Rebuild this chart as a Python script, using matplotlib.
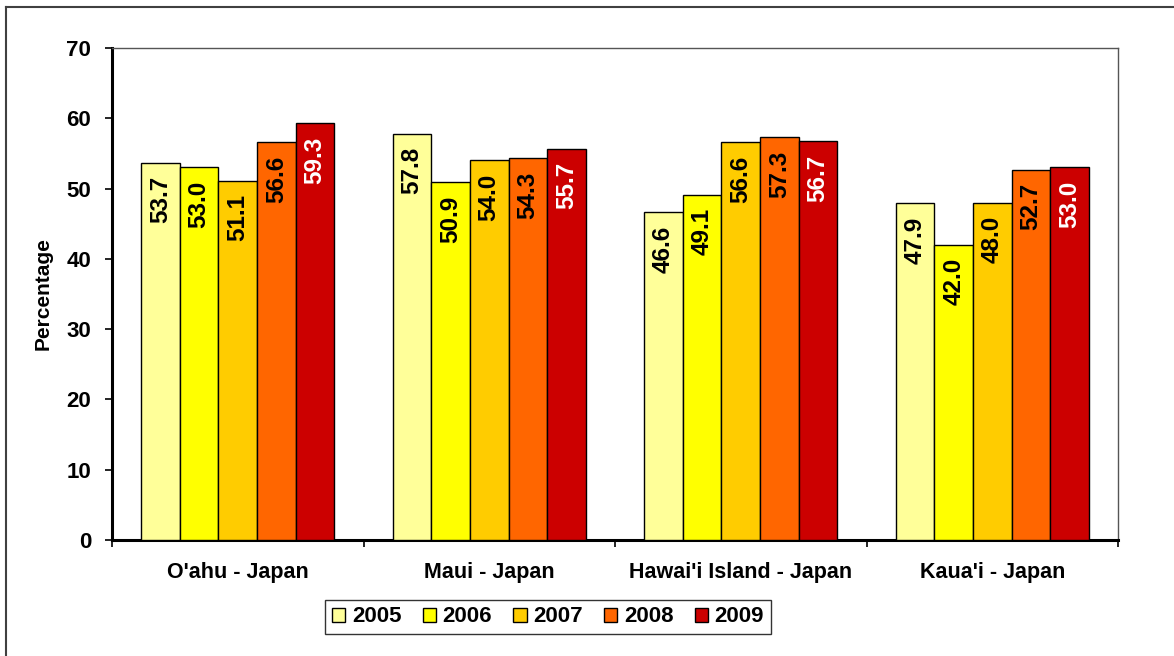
import matplotlib.pyplot as plt
import numpy as np
from matplotlib.lines import Line2D

plt.rcParams["font.family"] = ["Liberation Sans", "DejaVu Sans"]
plt.rcParams["font.weight"] = "bold"

islands = ["O'ahu - Japan", "Maui - Japan", "Hawai'i Island - Japan", "Kaua'i - Japan"]
years = ["2005", "2006", "2007", "2008", "2009"]
werte_2005 = [53.7, 57.8, 46.6, 47.9]
werte_2006 = [53.0, 50.9, 49.1, 42.0]
werte_2007 = [51.1, 54.0, 56.6, 48.0]
werte_2008 = [56.6, 54.3, 57.3, 52.7]
werte_2009 = [59.3, 55.7, 56.7, 53.0]
y_ticks = [0, 10, 20, 30, 40, 50, 60, 70]

alle_werte = [werte_2005, werte_2006, werte_2007, werte_2008, werte_2009]
farben = ["#FFFF99", "#FFFF00", "#FFCC00", "#FF6600", "#CC0000"]
text_farben = ["black", "black", "black", "black", "white"]

fig = plt.figure(figsize=(11.74, 6.56), dpi=100)
ax = fig.add_axes([112 / 1174, 1 - 540 / 656, 1006 / 1174, 492 / 656])

breite = 0.1535
mitte = np.arange(len(islands)) + 0.5
for i, (werte, farbe) in enumerate(zip(alle_werte, farben)):
    x = mitte + (i - 2) * breite
    bars = ax.bar(x, werte, breite, color=farbe, edgecolor="black",
                  linewidth=1.0, label=years[i], zorder=3)
    for b, v in zip(bars, werte):
        ax.annotate(f"{v:.1f}", (b.get_x() + b.get_width() / 2, v),
                    xytext=(0, -9.5), textcoords="offset points",
                    rotation=90, ha="center", va="top",
                    fontsize=17.5, fontweight="bold", color=text_farben[i],
                    zorder=4)

ax.set_xlim(0, len(islands))
ax.set_ylim(0, 70)
ax.set_yticks(y_ticks)
ax.set_yticklabels([str(t) for t in y_ticks])
ax.set_xticks(np.arange(len(islands) + 1))
ax.set_xticklabels([])
ax.set_xticks(mitte, minor=True)
ax.set_xticklabels(islands, minor=True)
ax.tick_params(axis="x", which="minor", length=0, pad=16, labelsize=15.5)
ax.tick_params(axis="x", which="major", length=5, width=1.2, direction="out")
ax.tick_params(axis="y", length=5, width=1.2, direction="out", pad=10,
               labelsize=16)

ax.spines["left"].set_linewidth(2.2)
ax.spines["bottom"].set_linewidth(2.2)
ax.spines["top"].set_linewidth(1.0)
ax.spines["right"].set_linewidth(1.0)
ax.spines["top"].set_color("#555555")
ax.spines["right"].set_color("#555555")

ax.set_ylabel("Percentage", fontsize=15, fontweight="bold")
ax.yaxis.set_label_coords(-0.059, 0.5)

leg = ax.legend(loc="center", bbox_to_anchor=(548 / 1174, 1 - 617 / 656),
                bbox_transform=fig.transFigure, ncol=5, frameon=True,
                fancybox=False, edgecolor="black", fontsize=16,
                handlelength=0.6, handleheight=0.6, handletextpad=0.3,
                columnspacing=0.95, borderpad=0.3)
leg.get_frame().set_linewidth(1.0)

# Rahmen um das Bild (nur oben und links sichtbar)
fig.add_artist(Line2D([6 / 1174, 6 / 1174], [0, 1 - 7 / 656],
                      transform=fig.transFigure, color="#404040", linewidth=1.5))
fig.add_artist(Line2D([6 / 1174, 1], [1 - 7 / 656, 1 - 7 / 656],
                      transform=fig.transFigure, color="#404040", linewidth=1.5))

plt.savefig("out.png", dpi=100)
